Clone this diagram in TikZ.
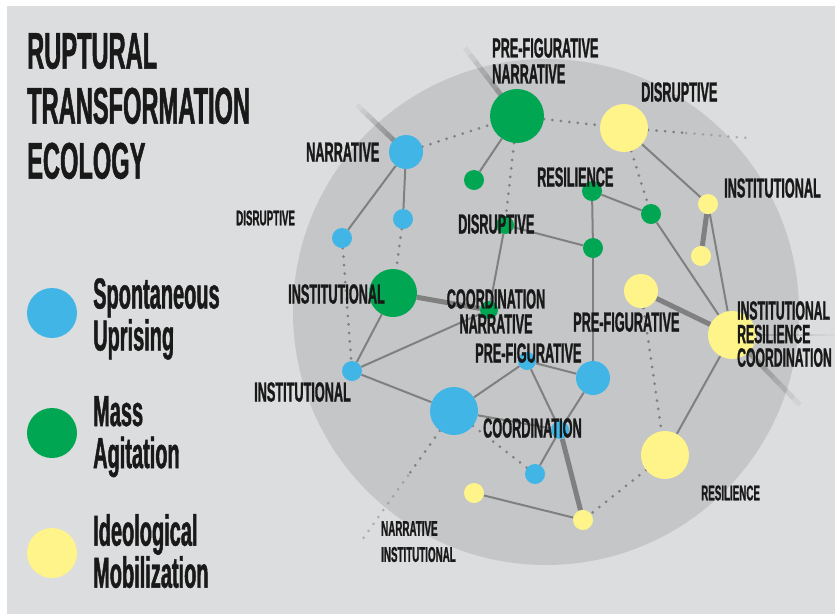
\documentclass[tikz,border=0pt]{standalone}
\usepackage{fontspec}
\newfontfamily\cond[FakeStretch=0.46,FakeBold=1]{Liberation Sans}
\usetikzlibrary{calc,backgrounds}
\definecolor{su}{HTML}{41B6E6}
\definecolor{ma}{HTML}{00A651}
\definecolor{im}{HTML}{FFF48A}
\definecolor{paper}{HTML}{DCDDDE}
\definecolor{globe}{HTML}{C5C6C8}
\definecolor{wire}{HTML}{808080}
\tikzset{
  dot/.style={circle, inner sep=0pt, minimum size=#1},
  link/.style={draw=wire, line width=2pt},
  bold link/.style={draw=wire, line width=5pt},
  dotted link/.style={draw=wire, line width=3pt, line cap=round, dash pattern=on 0pt off 8.5pt},
  lbl/.style={font=\cond\bfseries\fontsize{27.6}{26}\selectfont, inner sep=0pt, anchor=west, text=black!90},
  small lbl/.style={lbl, font=\cond\bfseries\fontsize{21.3}{26}\selectfont},
  legend/.style={font=\cond\bfseries\fontsize{43.4}{42}\selectfont, inner sep=0pt, anchor=north west, align=left, text=black!90},
}
\begin{document}
\begin{tikzpicture}[x=1pt,y=-1pt]
  \useasboundingbox (0,0) rectangle (835,614);
  % 标题
  \node[anchor=north west, align=left, inner sep=0pt, text=black!90,
    font=\cond\bfseries\fontsize{51.4}{55}\selectfont] (title) at (27,33) {RUPTURAL\\TRANSFORMATION\\ECOLOGY};
  % 图例
  \node[dot=50, fill=su] (key1) at (52,313) {};
  \node[dot=50, fill=ma] (key2) at (52,433) {};
  \node[dot=50, fill=im] (key3) at (52,553) {};
  \node[legend] (text1) at (93,278) {Spontaneous\\Uprising};
  \node[legend] (text2) at (93,396) {Mass\\Agitation};
  \node[legend] (text3) at (93,514) {Ideological\\Mobilization};
  % 节点: spontaneous uprising
  \node[dot=34, fill=su] (su1) at (406,152) {};
  \node[dot=20, fill=su] (su2) at (403,219) {};
  \node[dot=20, fill=su] (su3) at (342,238) {};
  \node[dot=20, fill=su] (su4) at (352,371) {};
  \node[dot=48, fill=su] (su5) at (454,411) {};
  \node[dot=18, fill=su] (su6) at (527,361) {};
  \node[dot=34, fill=su] (su7) at (593,378) {};
  \node[dot=18, fill=su] (su8) at (560,430) {};
  \node[dot=20, fill=su] (su9) at (535,474) {};
  % 节点: mass agitation
  \node[dot=54, fill=ma] (ma1) at (517,116) {};
  \node[dot=20, fill=ma] (ma2) at (474,180) {};
  \node[dot=20, fill=ma] (ma3) at (592,191) {};
  \node[dot=18, fill=ma] (ma4) at (505,225) {};
  \node[dot=20, fill=ma] (ma5) at (651,214) {};
  \node[dot=20, fill=ma] (ma6) at (593,248) {};
  \node[dot=48, fill=ma] (ma7) at (393,293) {};
  \node[dot=18, fill=ma] (ma8) at (489,310) {};
  % 节点: ideological mobilization
  \node[dot=48, fill=im] (im1) at (624,128) {};
  \node[dot=20, fill=im] (im2) at (708,204) {};
  \node[dot=20, fill=im] (im3) at (701,256) {};
  \node[dot=34, fill=im] (im4) at (641,291) {};
  \node[dot=48, fill=im] (im5) at (732,335) {};
  \node[dot=48, fill=im] (im6) at (665,455) {};
  \node[dot=20, fill=im] (im7) at (474,493) {};
  \node[dot=20, fill=im] (im8) at (583,520) {};
  % 渐隐线的端点
  \coordinate (out1) at (357,105);
  \coordinate (out2) at (465,48);
  \coordinate (out3) at (800,405);
  \coordinate (out4) at (835,335);
  \coordinate (out5) at (748,138);
  \coordinate (out6) at (362,540);
  \begin{pgfonlayer}{background}
    \fill[white] (0,0) rectangle (835,614);
    \fill[paper] (7,6) rectangle (835,614);
    \fill[globe] (546,312) circle (253pt);
    % 渐隐线
    \foreach \k [evaluate=\k as \a using \k/10, evaluate=\k as \b using (\k+1)/10,
                 evaluate=\k as \o using 1-\k/10] in {0,...,9} {
      \draw[bold link, opacity=\o] ($(su1)!\a!(out1)$) -- ($(su1)!\b!(out1)$);
      \draw[bold link, opacity=\o] ($(ma1)!\a!(out2)$) -- ($(ma1)!\b!(out2)$);
      \draw[bold link, opacity=\o] ($(im5)!\a!(out3)$) -- ($(im5)!\b!(out3)$);
      \draw[link, line width=1.5pt, opacity=0.6*\o] ($(im5)!\a!(out4)$) -- ($(im5)!\b!(out4)$);
    }
    \draw[dotted link] (im1) -- ($(im1)!0.5!(out5)$);
    \draw[dotted link, opacity=0.5] ($(im1)!0.5!(out5)$) -- (out5);
    \draw[dotted link] (su5) -- ($(su5)!0.5!(out6)$);
    \draw[dotted link, opacity=0.5] ($(su5)!0.5!(out6)$) -- (out6);
    % 实线
    \draw[link] (su1) -- (su2);
    \draw[link] (su1) -- (su3);
    \draw[link] (ma1) -- (ma2);
    \draw[link] (ma3) -- (ma6);
    \draw[link] (ma3) -- (ma5);
    \draw[link] (ma4) -- (ma6);
    \draw[link] (ma4) -- (ma8);
    \draw[link] (ma6) -- (su7);
    \draw[link] (im1) -- (im2);
    \draw[link] (im2) -- (im5);
    \draw[link] (ma5) -- (im5);
    \draw[link] (im5) -- (im6);
    \draw[link] (ma7) -- (su4);
    \draw[link] (su4) -- (ma8);
    \draw[link] (su4) -- (su5);
    \draw[link] (su5) -- (su6);
    \draw[link] (su5) -- (su8);
    \draw[link] (su6) -- (su7);
    \draw[link] (su6) -- (su8);
    \draw[link] (su7) -- (su8);
    \draw[link] (su8) -- (su9);
    \draw[link] (im7) -- (im8);
    % 粗线
    \draw[bold link] (im2) -- (im3);
    \draw[bold link] (im4) -- (im5);
    \draw[bold link] (ma7) -- (ma8);
    \draw[bold link] (su8) -- (im8);
    % 虚线
    \draw[dotted link] (su1) -- (ma1);
    \draw[dotted link] (ma1) -- (im1);
    \draw[dotted link] (ma1) -- (ma4);
    \draw[dotted link] (im1) -- (ma5);
    \draw[dotted link] (su2) -- (ma7);
    \draw[dotted link] (su3) -- (su4);
    \draw[dotted link] (im4) -- (im6);
    \draw[dotted link] (im6) -- (im8);
    \draw[dotted link] (su5) -- (su9);
  \end{pgfonlayer}
  % 标签
  \node[lbl] (l1) at (306,152) {NARRATIVE};
  \node[small lbl] (l2) at (236,218) {DISRUPTIVE};
  \node[lbl, anchor=north west, align=left] (l3) at (492,38) {PRE-FIGURATIVE\\NARRATIVE};
  \node[lbl] (l4) at (641,92) {DISRUPTIVE};
  \node[lbl] (l5) at (537,177) {RESILIENCE};
  \node[lbl] (l6) at (724,188) {INSTITUTIONAL};
  \node[lbl] (l7) at (458,224) {DISRUPTIVE};
  \node[lbl] (l8) at (288,294) {INSTITUTIONAL};
  \node[lbl, anchor=north, align=center, font=\cond\bfseries\fontsize{27.6}{25}\selectfont] (l9) at (496,289) {COORDINATION\\NARRATIVE};
  \node[lbl] (l10) at (573,322) {PRE-FIGURATIVE};
  \node[lbl, anchor=north west, align=left, font=\cond\bfseries\fontsize{26.5}{23.5}\selectfont] (l11) at (737,301) {INSTITUTIONAL\\RESILIENCE\\COORDINATION};
  \node[lbl] (l12) at (475,353) {PRE-FIGURATIVE};
  \node[lbl] (l13) at (254,392) {INSTITUTIONAL};
  \node[lbl] (l14) at (483,428) {COORDINATION};
  \node[small lbl] (l15) at (701,493) {RESILIENCE};
  \node[small lbl, anchor=north west, align=left] (l16) at (381,521) {NARRATIVE\\INSTITUTIONAL};
\end{tikzpicture}
\end{document}
